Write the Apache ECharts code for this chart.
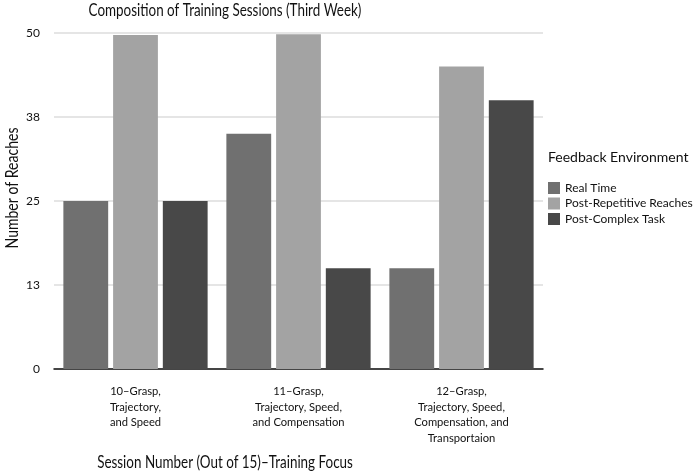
<!DOCTYPE html>
<html><head><meta charset="utf-8">
<script src="https://cdn.jsdelivr.net/npm/echarts@6/dist/echarts.min.js"></script>
<style>html,body{margin:0;padding:0;background:#fff}#c{width:694px;height:474px}</style>
</head><body><div id="c"></div>
<script>
const categories = ["10–Grasp,\nTrajectory,\nand Speed", "11–Grasp,\nTrajectory, Speed,\nand Compensation", "12–Grasp,\nTrajectory, Speed,\nCompensation, and\nTransportaion"];
const seriesNames = ["Real Time", "Post-Repetitive Reaches", "Post-Complex Task"];
const realTime = [25, 35, 15];
const postRepetitive = [49.7, 49.8, 45];
const postComplex = [25, 15, 40];
const colors = ["#707070", "#a3a3a3", "#484848"];
const chartTitle = "Composition of Training Sessions (Third Week)";
const xName = "Session Number (Out of 15)–Training Focus";
const yName = "Number of Reaches";
const legendTitle = "Feedback Environment";
const FONT = "Lato";
const chart = echarts.init(document.getElementById('c'));
chart.setOption({
  animation: false,
  textStyle: {fontFamily: FONT},
  title: [
    {text: legendTitle, left: 543, top: 145,
     textStyle: {fontFamily: FONT, fontSize: 14, fontWeight: 'normal', color: '#111'}}
  ],
  graphic: [
    {type: 'text', x: 225, y: 11, scaleX: 0.79, style: {text: chartTitle, x: 0, y: 0,
      align: 'center', verticalAlign: 'middle', font: "17px Lato", fill: '#111'}},
    {type: 'text', x: 225, y: 463, scaleX: 0.79, style: {text: xName, x: 0, y: 0,
      align: 'center', verticalAlign: 'middle', font: "17px Lato", fill: '#111'}},
    {type: 'text', x: 13, y: 188, rotation: Math.PI / 2, scaleX: 0.85, style: {text: yName, x: 0, y: 0,
      align: 'center', verticalAlign: 'middle', font: "16.5px Lato", fill: '#111'}}
  ],
  legend: {
    orient: 'vertical', left: 543, top: 177, itemWidth: 12, itemHeight: 12, itemGap: 3.5,
    icon: 'rect', data: seriesNames,
    textStyle: {fontFamily: FONT, fontSize: 12, color: '#111'}
  },
  grid: {left: 54, right: 151, top: 33, bottom: 105, containLabel: false, outerBoundsMode: 'none'},
  xAxis: {
    type: 'category', data: categories,
    axisLine: {lineStyle: {color: '#111', width: 1.5}},
    axisTick: {show: false},
    axisLabel: {fontFamily: FONT, fontSize: 11.2, color: '#111', lineHeight: 15.5, margin: 15, interval: 0}
  },
  yAxis: {
    type: 'value', min: 0, max: 50, interval: 12.5,
    axisLine: {show: false}, axisTick: {show: false},
    axisLabel: {fontFamily: FONT, fontSize: 12, color: '#111', margin: 14, formatter: v => Math.round(v)},
    splitLine: {lineStyle: {color: '#dcdcdc', width: 1.5}}
  },
  series: [
    {name: seriesNames[0], type: 'bar', data: realTime, itemStyle: {color: colors[0]}, barGap: '11%', barCategoryGap: '11.5%'},
    {name: seriesNames[1], type: 'bar', data: postRepetitive, itemStyle: {color: colors[1]}},
    {name: seriesNames[2], type: 'bar', data: postComplex, itemStyle: {color: colors[2]}}
  ]
});
</script></body></html>
